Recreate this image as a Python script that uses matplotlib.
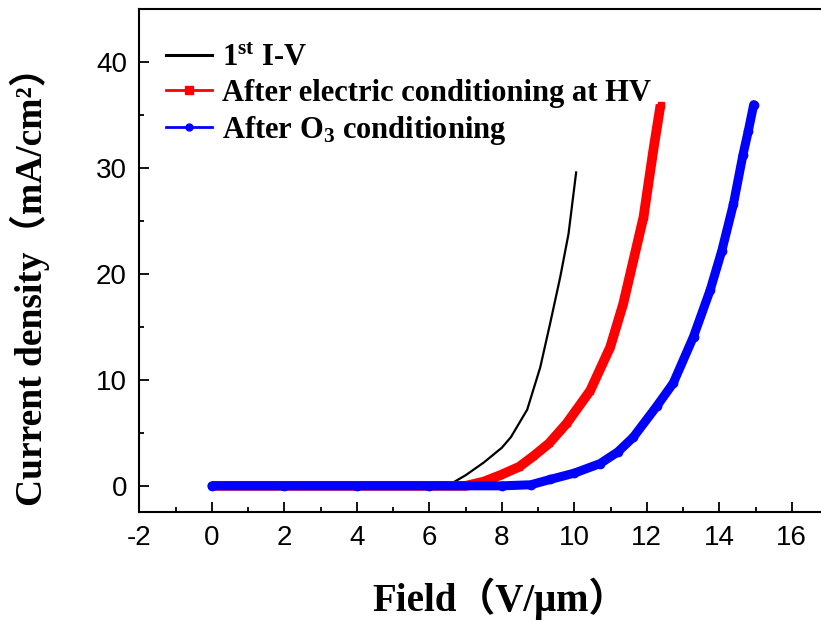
import matplotlib
matplotlib.use("Agg")
import matplotlib.pyplot as plt
from matplotlib.lines import Line2D
from matplotlib.ticker import MultipleLocator

# 1st I-V (black)
black_x = [0, 2, 4, 6, 6.6, 7.0, 7.5, 8.0, 8.25, 8.7, 9.06, 9.33, 9.61, 9.84, 10.05]
black_y = [0, 0, 0, 0, 0.2, 1.0, 2.2, 3.6, 4.6, 7.2, 11.2, 15.3, 19.7, 23.8, 29.6]

# after electric conditioning at HV (red)
red_x = [0, 2, 4, 6, 7.0, 7.5, 7.95, 8.48, 8.87, 9.3, 9.79, 10.44, 10.99, 11.35, 11.63, 11.91, 12.18, 12.38]
red_y = [0, 0, 0, 0, 0, 0.4, 1.0, 1.8, 2.8, 4.0, 5.9, 9.0, 13.1, 17.2, 21.3, 25.4, 31.7, 36.0]

# after O3 conditioning (blue)
blue_x = [0, 2, 4, 6, 8, 8.8, 9.33, 10.0, 10.71, 11.2, 11.63, 12.27, 12.73, 13.29, 13.75, 14.07, 14.39, 14.65, 14.8, 14.95]
blue_y = [0, 0, 0, 0, 0, 0.1, 0.6, 1.2, 2.1, 3.2, 4.6, 7.5, 9.7, 14.1, 18.5, 22.2, 26.6, 31.2, 33.5, 36.0]

labels = ["1$^{st}$ I-V", "After electric conditioning at HV", "After O$_3$ conditioning"]

plt.rcParams["mathtext.fontset"] = "custom"
plt.rcParams["mathtext.rm"] = "Liberation Serif:bold"
plt.rcParams["mathtext.it"] = "Liberation Serif:bold"
plt.rcParams["mathtext.bf"] = "Liberation Serif:bold"
plt.rcParams["axes.unicode_minus"] = False

serif_cjk = ["Liberation Serif", "Noto Sans CJK SC"]

fig = plt.figure(figsize=(8.21, 6.24), dpi=100)
ax = fig.add_axes([0.1699, 0.179, 0.8386, 0.806])

ax.plot(blue_x, blue_y, color="#0000ff", lw=6.5, marker="o", ms=6, solid_capstyle="round", zorder=3)
ax.plot(red_x, red_y, color="#ff0000", lw=7, marker="s", ms=5, solid_capstyle="butt", zorder=2)
ax.plot(black_x, black_y, color="black", lw=1.6, zorder=1)

ax.set_xlim(-2, 17)
ax.set_ylim(-2.5, 45)
ax.xaxis.set_major_locator(MultipleLocator(2))
ax.xaxis.set_minor_locator(MultipleLocator(1))
ax.yaxis.set_minor_locator(MultipleLocator(5))
ax.set_yticks([0, 10, 20, 30, 40])

for s in ["left", "bottom", "top"]:
    ax.spines[s].set_linewidth(1.5)
ax.spines["right"].set_visible(False)

ax.tick_params(which="both", direction="in", width=1.3, top=False, right=False)
ax.tick_params(which="major", length=7)
ax.tick_params(which="minor", length=3.5)
ax.tick_params(axis="x", pad=9, labelsize=20)
ax.tick_params(axis="y", pad=9, labelsize=20)
for lab in ax.get_xticklabels() + ax.get_yticklabels():
    lab.set_family("Liberation Sans")

ax.set_xlabel("Field\uff08V/\u03bcm\uff09", family=serif_cjk, weight="bold", fontsize=28)
ax.xaxis.set_label_coords(0.524, -0.13)
ax.xaxis.label.set_va("top")
ax.set_ylabel("Current density\uff08mA/cm\u00b2\uff09", family=serif_cjk, weight="bold", fontsize=27)
ax.yaxis.set_label_coords(-0.13, 0.468)

handles = [
    Line2D([], [], color="black", lw=2.2),
    Line2D([], [], color="#ff0000", lw=2, marker="s", ms=6),
    Line2D([], [], color="#0000ff", lw=2, marker="o", ms=5),
]
ax.legend(handles, labels, loc="upper left", bbox_to_anchor=(0.0385, 0.932), frameon=False,
          prop={"family": "Liberation Serif", "weight": "bold", "size": 22},
          handlelength=1.5, handletextpad=0.32, labelspacing=0.2, numpoints=1,
          borderaxespad=0, borderpad=0)

plt.savefig("out.png", dpi=100)
